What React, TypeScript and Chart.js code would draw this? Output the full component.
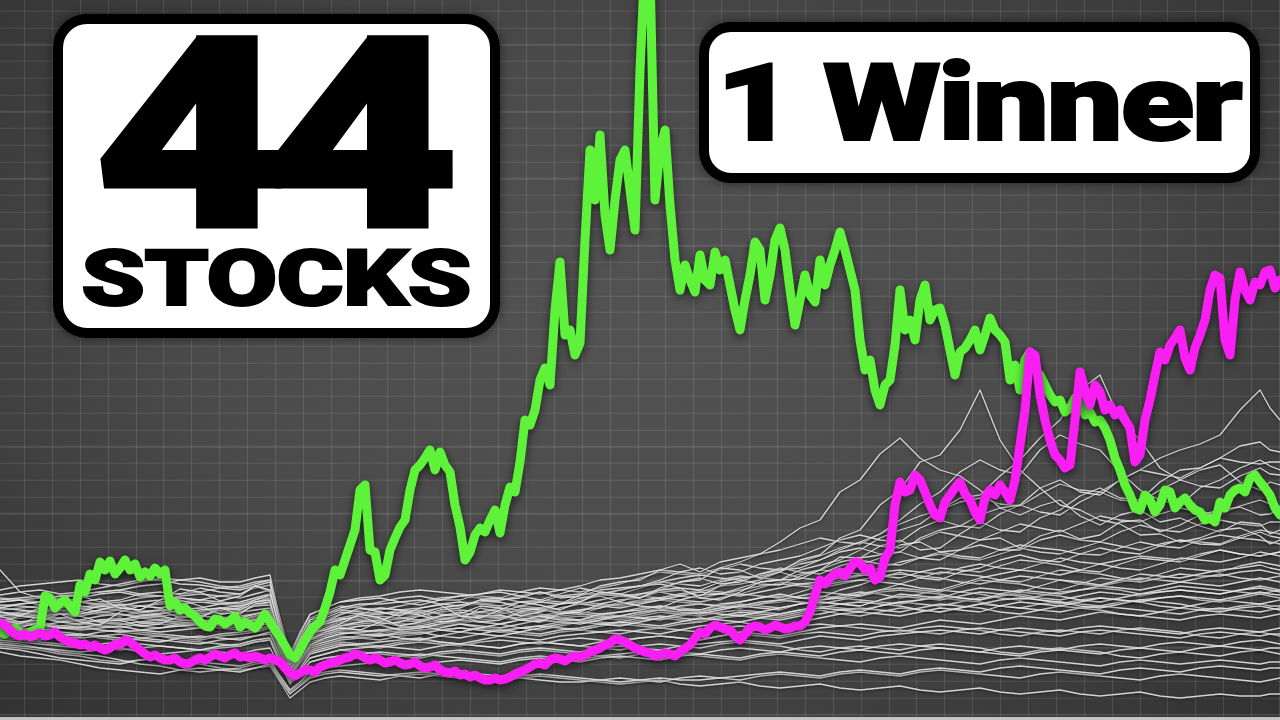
import { useEffect, useRef } from "react";
import { Chart, registerables } from "chart.js";

Chart.register(...registerables);

// ---------- DATA (value index) ----------
// The two highlighted stocks, sampled every 5 trading days (day 0 .. 1280)
const FINE_STEP_DAYS = 5;

const RUNNER_GREEN = [
  88, 86, 90, 92, 87, 84, 88, 90, 92, 124,
  122, 112, 117, 120, 114, 108, 135, 128, 146, 140,
  158, 150, 159, 146, 152, 160, 150, 156, 143, 148,
  144, 152, 146, 150, 114, 118, 110, 112, 107, 104,
  98, 94, 93, 101, 100, 96, 99, 104, 93, 98,
  95, 92, 98, 106, 98, 90, 83, 74, 65, 62,
  70, 80, 88, 94, 98, 112, 128, 150, 145, 160,
  175, 190, 230, 235, 170, 168, 140, 145, 170, 182,
  193, 200, 230, 250, 255, 262, 270, 250, 268, 255,
  248, 215, 193, 160, 168, 185, 192, 188, 200, 210,
  187, 215, 233, 228, 258, 300, 295, 310, 340, 352,
  335, 410, 458, 385, 390, 365, 377, 480, 570, 520,
  585, 505, 470, 520, 560, 570, 530, 490, 650, 760,
  750, 520, 570, 590, 515, 460, 430, 455, 440, 428,
  465, 440, 435, 468, 450, 460, 435, 410, 390, 420,
  445, 478, 470, 420, 445, 480, 492, 470, 430, 395,
  420, 445, 425, 418, 460, 435, 455, 470, 488, 470,
  450, 430, 380, 350, 360, 330, 315, 335, 340, 375,
  430, 390, 400, 380, 420, 435, 400, 410, 412, 395,
  370, 345, 368, 372, 380, 390, 370, 385, 402, 390,
  385, 378, 340, 355, 330, 360, 368, 350, 345, 335,
  325, 318, 320, 308, 312, 322, 320, 305, 308, 298,
  300, 292, 280, 262, 250, 235, 225, 212, 210, 225,
  220, 208, 215, 230, 228, 212, 218, 222, 215, 210,
  208, 200, 202, 198, 218, 212, 225, 230, 232, 228,
  242, 245, 238, 232, 225, 212, 205,
];

const WINNER_MAGENTA = [
  97, 95, 90, 86, 84, 86, 83, 85, 87, 84,
  85, 88, 83, 80, 78, 77, 75, 76, 73, 75,
  72, 70, 72, 76, 75, 80, 78, 74, 70, 66,
  63, 65, 62, 60, 60, 62, 58, 56, 57, 60,
  62, 60, 63, 66, 64, 62, 65, 67, 63, 64,
  62, 64, 62, 60, 62, 60, 58, 52, 47, 44,
  47, 50, 50, 48, 53, 55, 57, 58, 60, 62,
  63, 66, 65, 62, 60, 62, 60, 57, 58, 60,
  57, 55, 56, 58, 54, 52, 53, 55, 50, 48,
  47, 49, 45, 46, 43, 45, 42, 40, 40, 42,
  40, 41, 43, 46, 48, 50, 53, 56, 57, 55,
  60, 62, 61, 59, 62, 64, 63, 65, 68, 70,
  72, 75, 77, 81, 80, 78, 75, 72, 70, 68,
  67, 64, 65, 67, 66, 64, 68, 72, 75, 82,
  88, 86, 92, 95, 93, 91, 90, 84, 80, 86,
  92, 94, 93, 90, 92, 95, 93, 91, 92, 94,
  94, 98, 108, 125, 140, 136, 142, 146, 148, 144,
  152, 158, 157, 150, 152, 140, 143, 162, 170, 215,
  238, 228, 230, 245, 240, 228, 215, 205, 202, 218,
  225, 232, 238, 226, 220, 208, 200, 222, 230, 225,
  235, 228, 220, 240, 275, 310, 368, 365, 325, 300,
  280, 265, 260, 252, 255, 300, 348, 330, 315, 335,
  328, 310, 315, 305, 310, 300, 292, 258, 265, 300,
  320, 345, 368, 360, 375, 382, 390, 362, 350, 372,
  385, 400, 430, 445, 442, 380, 365, 420, 448, 430,
  420, 438, 435, 448, 450, 432, 440,
];

// The other 42 stocks, sampled on these trading days
const OTHER_DAYS = [
  0, 20, 40, 60, 80, 100, 120, 140, 160, 180, 200, 220, 240, 255, 270, 280, 290, 300, 310, 325,
  340, 360, 380, 400, 420, 440, 460, 480, 500, 520, 540, 560, 580, 600, 620, 640, 660, 680, 700, 720,
  740, 760, 780, 800, 820, 840, 860, 880, 900, 920, 940, 960, 980, 1000, 1020, 1040, 1060, 1080, 1100, 1120,
  1140, 1160, 1180, 1200, 1220, 1240, 1260, 1270, 1280,
];

const S01 = [150,128,122,112,118,121,112,110,120,131,128,119,124,134,130,88,60,80,95,98,105,112,108,104,112,115,104,102,110,118,115,110,118,128,126,122,130,132,122,120,128,138,140,141,150,163,162,165,175,178,168,170,180,182,172,184,190,181,185,198,200,188,195,205,210,213,205,206,212];
const S02 = [100,96,104,106,98,95,108,114,112,106,110,112,106,116,118,84,55,74,88,90,96,106,102,94,98,104,106,114,112,104,108,116,118,126,124,122,132,138,140,152,150,142,148,160,165,182,190,215,230,258,265,290,330,280,250,232,215,210,200,196,185,186,178,182,190,192,184,176,180];
const S03 = [95,92,98,106,104,98,100,94,96,104,102,112,110,118,120,80,50,66,80,88,92,90,98,108,105,98,100,112,108,114,118,116,125,134,138,140,150,156,148,158,162,166,178,192,200,228,240,266,282,262,250,244,230,212,205,214,220,204,195,205,210,198,202,194,188,198,196,186,190];
const S04 = [108,104,112,116,106,110,115,108,110,102,104,110,112,120,125,92,58,76,90,96,100,104,96,98,104,110,112,120,118,112,110,116,122,124,118,126,130,138,142,136,138,146,150,152,160,168,172,166,168,182,190,194,205,212,215,232,240,228,225,240,250,262,270,276,285,310,330,312,300];
const S05 = [104,98,100,106,108,114,112,110,118,120,114,106,108,114,115,82,52,70,86,90,94,98,100,106,108,100,104,98,100,108,112,106,108,116,120,122,128,130,124,134,140,136,135,144,150,158,162,174,180,170,172,186,198,190,188,202,210,224,232,222,220,238,250,252,262,274,278,270,268];
const S06 = [112,116,118,124,124,118,120,126,128,126,132,128,126,134,138,96,62,80,96,102,108,106,112,110,106,112,115,118,120,122,128,122,124,130,132,134,140,148,152,146,148,156,160,164,172,180,185,180,178,192,200,194,192,206,215,208,205,218,228,220,218,230,240,234,232,244,252,246,245];
const S07 = [98,104,102,98,96,100,100,104,106,110,112,106,108,110,112,78,48,64,82,86,90,94,95,90,92,96,100,104,105,100,98,106,110,112,118,114,112,120,125,126,132,138,140,150,155,160,170,182,190,196,210,222,225,244,260,282,300,330,345,300,280,252,240,250,255,238,230,238,235];
const S08 = [118,120,115,118,122,126,128,124,124,122,120,124,126,132,135,95,60,82,100,106,112,116,116,118,120,116,114,120,122,118,118,124,126,126,130,134,136,132,130,138,142,144,148,142,140,150,155,162,168,162,160,170,175,170,170,180,185,180,178,188,195,190,188,196,200,196,194,198,198];
const S09 = [90,94,96,92,92,96,98,102,104,100,100,98,96,100,102,72,45,60,75,82,86,88,90,92,94,90,88,92,96,100,104,100,100,106,108,110,114,110,110,116,118,122,126,122,122,130,135,142,148,142,140,148,152,160,165,160,158,166,172,168,166,174,180,176,175,182,188,184,182];
const S10 = [125,128,130,126,128,132,136,140,140,136,135,132,130,134,128,96,64,86,105,112,118,120,122,118,115,120,124,126,128,124,120,126,132,128,126,132,138,142,145,142,140,146,152,148,146,154,160,156,155,162,168,164,162,170,175,172,170,166,165,172,178,174,172,180,185,182,180,178,176];
const S11 = [100,98,95,92,90,92,94,90,88,90,92,96,98,100,105,74,46,62,80,84,88,86,84,88,90,92,96,94,92,96,100,98,96,100,104,108,110,108,106,110,114,118,120,124,128,126,124,130,136,132,130,136,142,146,150,148,145,150,156,152,150,156,162,160,158,162,168,166,164];
const S12 = [86,88,90,92,94,90,88,90,92,94,96,94,92,96,100,70,42,58,74,78,82,84,86,82,80,84,88,86,84,88,92,96,98,96,94,98,102,106,108,106,104,108,112,116,118,116,114,120,126,124,122,128,132,130,128,134,140,138,135,140,146,144,142,146,150,152,155,152,150];
const S13 = [112,110,108,112,114,112,110,106,104,106,108,112,114,118,122,88,55,74,92,96,100,104,106,108,110,106,104,108,112,110,108,112,116,114,112,116,120,124,128,126,124,128,132,136,138,142,145,144,142,148,152,150,148,154,160,158,155,150,148,156,162,160,158,164,170,166,164,166,168];
const S14 = [96,98,100,102,104,108,110,108,106,110,112,116,118,122,126,88,54,70,86,92,98,102,104,102,100,104,108,104,102,106,110,108,106,112,116,120,122,120,118,122,126,124,122,128,134,138,140,138,136,142,148,146,144,140,138,144,150,148,146,142,140,146,152,150,148,154,158,156,154];
const S15 = [104,106,108,110,112,108,106,102,100,98,96,100,102,106,110,80,50,68,84,88,92,90,88,92,94,98,100,98,96,92,90,94,98,102,104,102,100,104,108,112,114,112,110,116,120,122,126,130,132,130,128,134,140,138,136,132,130,136,142,140,138,142,146,144,144,148,150,148,146];
const S16 = [92,90,88,86,84,88,90,88,86,84,82,86,88,90,94,68,44,58,72,76,80,82,84,86,88,84,82,86,90,88,86,90,92,96,98,96,94,98,102,100,98,102,106,110,112,110,108,114,118,120,124,122,120,126,130,128,126,130,134,132,130,134,138,136,134,138,142,140,138];
const S17 = [120,122,124,120,118,116,114,118,120,124,126,124,122,126,130,92,58,78,98,104,110,108,106,110,112,116,118,116,114,118,120,118,116,120,124,126,128,124,122,126,130,134,136,134,132,136,140,144,146,144,142,138,136,140,144,142,140,136,134,138,142,140,138,142,146,142,140,142,144];
const S18 = [84,82,80,84,86,84,82,80,78,82,84,82,80,84,88,64,40,52,66,70,74,76,78,80,82,78,76,80,84,82,80,84,86,88,90,88,86,90,94,96,98,94,92,98,102,106,108,106,104,108,112,110,108,114,118,116,114,118,122,120,118,122,124,122,120,124,128,126,125];
const S19 = [108,106,104,102,100,104,106,104,102,100,98,102,104,106,108,78,50,68,86,90,94,96,98,94,92,96,98,102,104,102,100,104,106,104,102,106,110,114,116,114,112,116,120,118,116,120,124,128,130,128,126,122,120,124,128,126,124,120,118,122,126,128,130,128,126,130,132,130,128];
const S20 = [98,96,94,98,100,98,96,94,92,96,98,96,94,98,102,74,47,62,78,82,86,88,90,88,86,90,92,90,88,92,94,92,90,94,98,102,104,102,100,104,108,106,104,108,112,116,118,116,114,110,108,112,116,120,122,120,118,114,112,116,120,122,124,120,118,122,126,124,122];
const S21 = [115,114,112,110,108,106,104,108,110,108,106,110,112,114,118,86,56,76,94,98,102,100,98,102,104,102,100,98,96,100,102,106,108,106,104,108,112,110,108,112,116,114,112,116,118,116,114,120,124,122,120,124,128,126,124,120,116,120,122,120,118,114,112,116,120,118,116,118,120];
const S22 = [88,90,92,94,96,94,92,96,98,96,94,92,90,94,96,70,46,60,76,80,84,82,80,84,86,90,92,90,88,86,84,88,90,94,96,94,92,96,98,102,104,102,100,104,106,110,112,110,108,112,116,114,112,108,106,110,114,112,110,106,104,108,112,110,108,112,114,112,110];
const S23 = [102,104,106,108,110,114,116,114,112,116,118,116,114,118,120,84,52,70,88,94,98,100,102,100,98,102,104,108,110,108,106,102,100,104,108,112,114,112,110,114,118,122,124,122,120,124,128,126,122,126,130,128,126,122,120,124,128,130,132,130,126,130,134,132,130,128,126,128,130];
const S24 = [94,96,98,94,92,94,96,98,100,102,104,102,100,104,106,76,48,64,80,86,90,88,86,90,92,94,96,92,90,92,94,98,100,98,96,100,102,100,98,102,106,104,102,106,110,106,104,108,112,110,108,112,116,114,112,110,108,112,114,112,110,108,106,110,112,110,108,110,112];
const S25 = [80,78,76,74,72,76,78,76,74,72,70,74,76,80,82,60,38,50,62,66,70,72,74,72,70,74,76,74,72,76,78,76,74,78,80,82,84,82,80,84,88,86,84,88,92,94,96,94,92,96,100,98,96,100,104,102,100,104,108,106,104,102,100,104,106,104,102,104,106];
const S26 = [110,112,114,116,118,114,112,114,116,118,120,118,116,120,124,88,56,74,92,98,102,106,108,106,104,108,110,108,106,110,112,116,118,116,114,118,120,118,116,114,112,116,118,122,124,122,120,118,116,120,122,120,118,114,112,116,118,116,114,118,120,118,116,112,110,114,116,114,114];
const S27 = [76,74,72,70,68,70,72,68,66,68,70,72,74,78,80,56,36,46,58,62,64,66,68,66,64,68,70,68,66,70,72,70,68,72,74,72,70,74,76,78,80,78,76,80,84,82,80,84,86,88,90,88,86,90,92,90,88,92,94,92,90,88,86,90,92,90,88,90,92];
const S28 = [90,88,86,84,82,84,86,82,80,78,76,80,82,84,86,64,44,56,68,72,76,74,72,76,78,76,74,78,80,78,76,80,82,80,78,82,84,82,80,84,86,84,82,86,88,86,84,88,90,88,86,90,92,90,88,86,84,88,90,88,86,84,82,86,88,86,84,86,86];
const S29 = [72,70,66,62,60,58,56,60,62,60,58,56,54,58,60,44,30,38,48,52,54,56,58,56,54,58,60,58,56,60,62,60,58,62,64,62,60,64,66,64,62,66,68,66,64,68,70,68,66,70,72,70,68,66,64,68,70,68,66,70,72,70,68,72,74,72,70,72,72];
const S30 = [82,80,78,76,74,72,70,72,74,72,70,68,66,70,72,54,38,48,58,62,64,62,60,64,66,64,62,60,58,62,64,62,60,64,66,68,70,68,66,70,72,70,68,72,74,72,70,74,76,74,72,70,68,72,74,72,70,74,76,74,72,76,78,76,74,78,80,78,76];
const S31 = [68,64,62,60,56,52,50,48,46,50,52,50,48,52,56,40,26,34,42,46,48,46,44,46,48,46,44,42,40,44,46,44,42,40,38,40,42,40,40,42,44,46,48,46,44,48,50,48,46,50,52,50,48,52,54,52,50,48,46,50,52,50,48,52,54,52,50,52,52];
const S32 = [78,76,72,68,66,64,60,56,54,50,48,50,52,56,58,42,28,36,44,48,50,48,46,44,42,46,48,46,44,42,40,38,38,40,42,40,38,42,44,42,40,44,46,44,42,46,48,46,44,48,50,48,46,44,42,46,48,46,44,42,40,44,46,44,42,40,38,40,42];
const S33 = [74,72,70,66,64,60,58,60,62,58,56,52,50,52,54,38,22,30,38,42,44,42,40,44,46,44,42,40,38,42,44,42,40,38,36,38,40,36,34,36,38,34,32,34,36,32,30,32,34,30,28,30,32,28,26,28,30,26,24,26,28,24,22,24,26,24,24,26,26];
const S34 = [100,98,96,94,92,90,88,86,84,82,80,84,86,88,92,66,42,56,70,74,78,76,74,78,80,78,76,74,72,76,78,76,74,72,70,74,76,74,72,76,78,76,74,70,68,72,74,72,70,74,76,74,72,68,66,70,72,70,68,64,62,66,68,66,64,68,70,68,66];
const S35 = [106,104,102,100,98,100,102,98,96,94,92,96,98,102,104,76,50,66,82,86,88,86,84,86,88,90,92,90,88,92,94,92,90,88,86,90,92,90,88,92,94,92,90,94,96,94,92,90,88,92,94,92,90,86,84,88,90,88,86,90,92,90,88,84,82,86,88,86,84];
const S36 = [95,92,90,88,86,82,80,82,84,80,78,76,74,78,80,58,40,50,62,66,70,68,66,64,62,66,68,66,64,68,70,68,66,64,62,66,68,66,64,62,60,64,66,64,62,60,58,62,64,62,60,58,56,60,62,60,58,56,54,58,60,58,56,58,60,58,56,58,58];
const S37 = [105,108,110,106,106,110,112,110,108,104,104,108,110,114,116,82,52,70,88,92,96,98,100,96,96,100,102,106,108,104,104,108,110,114,116,118,122,126,128,134,136,140,148,156,160,170,178,186,200,216,228,248,260,250,245,270,285,276,270,248,230,220,215,232,240,252,260,254,250];
const S38 = [118,120,122,124,126,128,130,134,136,140,142,138,138,142,145,100,64,84,100,106,110,114,118,122,124,120,120,126,130,128,126,130,134,140,142,146,150,148,146,152,158,166,170,176,182,178,176,186,196,204,210,218,222,216,214,226,236,230,228,240,250,246,242,252,262,258,256,258,258];
const S39 = [130,134,136,138,140,136,134,138,142,140,138,134,132,136,140,102,66,88,106,112,118,122,124,128,130,128,126,124,122,128,132,130,128,132,136,142,148,146,144,150,156,152,150,158,164,172,178,174,172,180,188,184,180,188,196,192,188,196,204,200,198,206,212,208,206,214,220,216,214];
const S40 = [122,120,118,122,126,128,130,126,124,126,128,132,134,138,140,98,60,82,102,108,114,112,110,114,118,122,124,122,120,124,128,124,122,126,130,134,138,136,134,140,144,142,140,146,150,148,146,152,158,162,166,162,160,166,172,168,166,172,178,174,170,176,180,178,176,184,190,188,186];
const S41 = [114,116,118,114,112,116,118,122,124,122,120,118,116,120,124,88,58,78,96,100,106,110,112,110,108,112,114,116,118,114,112,116,120,124,126,124,122,126,130,128,126,132,138,136,134,140,144,148,150,148,146,152,156,152,150,156,162,158,156,160,164,162,160,166,170,166,164,166,168];
const S42 = [100,102,104,102,100,98,96,98,100,96,94,98,100,104,108,74,48,64,84,88,92,94,96,98,100,98,96,100,102,100,98,102,104,102,100,104,108,106,104,108,110,108,106,110,114,112,110,114,118,116,114,118,122,124,126,122,120,124,128,126,124,128,130,128,126,130,134,132,130];

const OTHER_STOCKS = [
  S01, S02, S03, S04, S05, S06, S07, S08, S09, S10, S11, S12, S13, S14,
  S15, S16, S17, S18, S19, S20, S21, S22, S23, S24, S25, S26, S27, S28,
  S29, S30, S31, S32, S33, S34, S35, S36, S37, S38, S39, S40, S41, S42,
];

const DAY_MAX = 1280;
const VALUE_MIN = 0;
const VALUE_MAX = 720;

// ---------- TEXT ----------
const HEAD_COUNT = "44";
const HEAD_WORD = "STOCKS";
const HEAD_RIGHT = "1 Winner";

const FONT_STACK = "Roboto, 'Liberation Sans', Arial, sans-serif";

// ink boxes of the headline texts (layout)
const TEXT_LAYOUT = [
  { text: HEAD_COUNT, left: 98, top: 37, right: 455, bottom: 230, stroke: 5, spacing: -0.07 },
  { text: HEAD_WORD, left: 83, top: 248, right: 470, bottom: 308, stroke: 2, spacing: -0.01 },
  { text: HEAD_RIGHT, left: 726, top: 58, right: 1243, bottom: 142, stroke: 2, spacing: -0.02 },
];

const shadowPlugin = {
  id: "lineShadow",
  beforeDatasetDraw(chart: any, args: any) {
    const ds = chart.data.datasets[args.index];
    const ctx = chart.ctx;
    ctx.save();
    ctx.shadowColor = ds.shadowTint || "rgba(0,0,0,0.5)";
    ctx.shadowBlur = ds.shadowSoft ?? 4;
    ctx.shadowOffsetX = 0;
    ctx.shadowOffsetY = ds.shadowDrop ?? 2;
  },
  afterDatasetDraw(chart: any) {
    chart.ctx.restore();
  },
};

export default function App() {
  const canvasRef = useRef<HTMLCanvasElement | null>(null);
  const textRefs = useRef<(HTMLDivElement | null)[]>([]);

  useEffect(() => {
    document.body.style.margin = "0";
    const canvas = canvasRef.current;
    if (!canvas) return;

    const fineDays = RUNNER_GREEN.map((_, i) => i * FINE_STEP_DAYS);

    const others = OTHER_STOCKS.map((series, k) => ({
      label: `Stock ${k + 3}`,
      data: series.map((v, i) => ({ x: OTHER_DAYS[i], y: v })),
      borderColor: "rgba(234,234,234,0.88)",
      borderWidth: 1.3,
      pointRadius: 0,
      tension: 0,
      shadowTint: "rgba(0,0,0,0.6)",
      shadowSoft: 3,
      shadowDrop: 1,
    }));

    const chart = new Chart(canvas, {
      type: "line",
      data: {
        datasets: [
          {
            label: "Winner",
            data: WINNER_MAGENTA.map((v, i) => ({ x: fineDays[i], y: v })),
            borderColor: "#f81ef4",
            borderWidth: 9,
            pointRadius: 0,
            tension: 0,
            shadowTint: "rgba(0,0,0,0.6)",
            shadowSoft: 8,
            shadowDrop: 3,
          } as any,
          {
            label: "Runner",
            data: RUNNER_GREEN.map((v, i) => ({ x: fineDays[i], y: v })),
            borderColor: "#5ff23b",
            borderWidth: 9,
            pointRadius: 0,
            tension: 0,
            shadowTint: "rgba(0,0,0,0.6)",
            shadowSoft: 8,
            shadowDrop: 3,
          } as any,
          ...(others as any[]),
        ],
      },
      options: {
        animation: false,
        responsive: false,
        maintainAspectRatio: false,
        events: [],
        layout: { padding: 0 },
        elements: { line: { borderJoinStyle: "round", borderCapStyle: "round" } },
        plugins: { legend: { display: false }, tooltip: { enabled: false } },
        scales: {
          x: { type: "linear", display: false, min: 0, max: DAY_MAX },
          y: { type: "linear", display: false, min: VALUE_MIN, max: VALUE_MAX },
        },
      },
      plugins: [shadowPlugin as any],
    });

    // fit headline texts to their ink boxes
    const mctx: any = document.createElement("canvas").getContext("2d");
    if (mctx) {
      TEXT_LAYOUT.forEach((b, i) => {
        const el = textRefs.current[i];
        if (!el) return;
        mctx.font = `900 100px ${FONT_STACK}`;
        if ("letterSpacing" in mctx) mctx.letterSpacing = `${b.spacing * 100}px`;
        const m = mctx.measureText(b.text);
        const half = b.stroke / 2;
        const top = b.top + half;
        const bottom = b.bottom - half;
        const left = b.left + half;
        const right = b.right - half;
        const asc = m.actualBoundingBoxAscent;
        const desc = Math.max(0, m.actualBoundingBoxDescent);
        const fs = (100 * (bottom - top)) / (asc + desc);
        const k = fs / 100;
        const inkW = (m.actualBoundingBoxLeft + m.actualBoundingBoxRight) * k;
        const sx = (right - left) / inkW;
        const fAsc = m.fontBoundingBoxAscent * k;
        const fDesc = m.fontBoundingBoxDescent * k;
        const baseline = top + asc * k;
        el.style.fontSize = `${fs}px`;
        el.style.letterSpacing = `${b.spacing}em`;
        el.style.lineHeight = `${fAsc + fDesc}px`;
        el.style.top = `${baseline - fAsc}px`;
        el.style.left = `${left + m.actualBoundingBoxLeft * k * sx}px`;
        el.style.transform = `scaleX(${sx})`;
        (el.style as any).webkitTextStroke = `${b.stroke}px #000`;
      });
    }

    return () => chart.destroy();
  }, []);

  const gridBg = [
    "repeating-linear-gradient(90deg, rgba(255,255,255,0.11) 0px, rgba(255,255,255,0.11) 1px, transparent 1px, transparent 27.89px)",
    "repeating-linear-gradient(180deg, rgba(255,255,255,0.10) 0px, rgba(255,255,255,0.10) 1px, transparent 1px, transparent 16.75px)",
    "radial-gradient(ellipse 75% 80% at 50% 45%, #535353 0%, #4b4b4b 45%, #3a3a3a 80%, #2f2f2f 100%)",
  ].join(", ");

  const textStyle: any = {
    position: "absolute",
    fontFamily: FONT_STACK,
    fontWeight: 900,
    color: "#000",
    whiteSpace: "nowrap",
    transformOrigin: "0 0",
    margin: 0,
  };

  return (
    <div
      style={{
        position: "fixed",
        left: 0,
        top: 0,
        width: 1280,
        height: 720,
        overflow: "hidden",
        background: gridBg,
        backgroundPosition: "24px 0, 0 10.75px, 0 0",
      }}
    >
      <canvas
        ref={canvasRef}
        width={1280}
        height={720}
        style={{ position: "absolute", left: 0, top: 0, width: 1280, height: 720 }}
      />
      <div
        style={{
          position: "absolute",
          left: 53,
          top: 14,
          width: 447,
          height: 324,
          boxSizing: "border-box",
          background: "#fff",
          border: "10px solid #000",
          borderRadius: 34,
          boxShadow: "0 0 8px 2px rgba(0,0,0,0.35)",
        }}
      />
      <div
        style={{
          position: "absolute",
          left: 699,
          top: 22,
          width: 561,
          height: 161,
          boxSizing: "border-box",
          background: "#fff",
          border: "10px solid #000",
          borderRadius: 32,
          boxShadow: "0 0 8px 2px rgba(0,0,0,0.35)",
        }}
      />
      {TEXT_LAYOUT.map((b, i) => (
        <div key={b.text} ref={(el) => { textRefs.current[i] = el; }} style={textStyle}>
          {b.text}
        </div>
      ))}
      <div
        style={{
          position: "absolute",
          left: 0,
          top: 717,
          width: 1280,
          height: 3,
          background: "#c4c4c4",
        }}
      />
    </div>
  );
}
